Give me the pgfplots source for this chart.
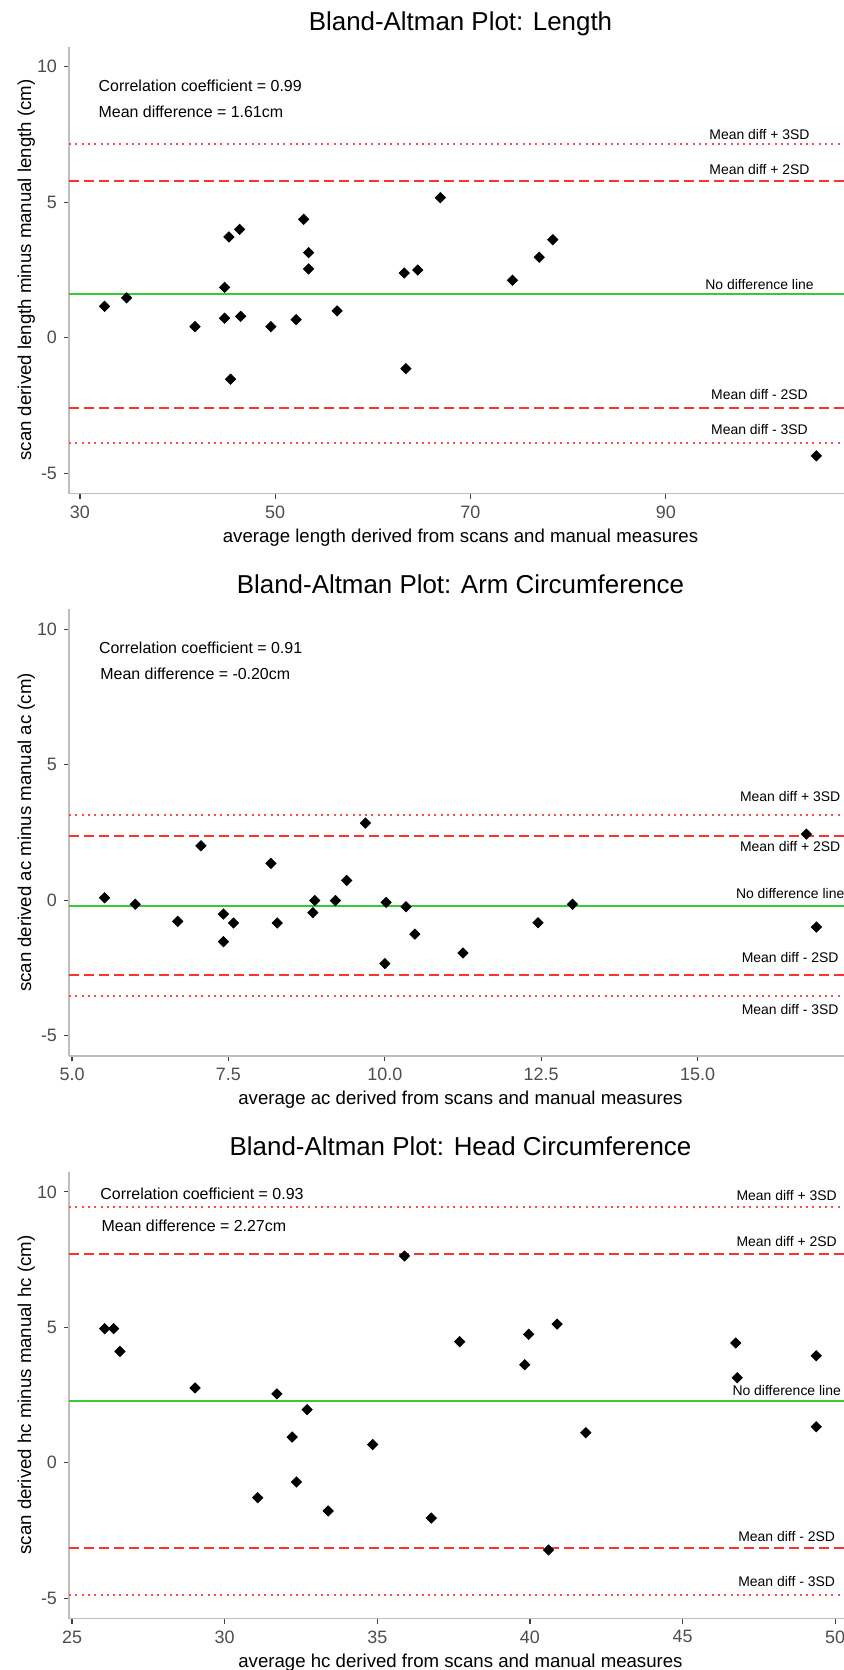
\documentclass[border=0pt]{standalone}
\usepackage{fontspec}
\setmainfont{Liberation Sans}
\usepackage{pgfplots}
\pgfplotsset{compat=1.18}

\definecolor{refred}{HTML}{FF3030}
\definecolor{dotred}{HTML}{FF4A4A}
\definecolor{nodiff}{HTML}{32CD32}
\definecolor{axisgrey}{HTML}{BEBEBE}
\definecolor{tickgrey}{HTML}{4D4D4D}

% 1 px of the reference = 0.5bp
\pgfplotsset{
  every axis title shift=0pt,
  bland/.style={
    scale only axis, width=391.5bp, height=223.5bp,
    ymin=-5.75, ymax=10.75, ytick={-5,0,5,10},
    axis x line*=bottom, axis y line*=left,
    axis line style={axisgrey, line width=0.9bp},
    tick align=outside, major tick length=2.5bp,
    tick style={color=black!75, line width=0.65bp},
    ticklabel style={font=\fontsize{9}{10}\selectfont, text=tickgrey},
    /pgf/number format/assume math mode=true,
    title style={font=\fontsize{13}{15}\selectfont, at={([yshift=7.9bp]axis description cs:0.5,1)}, anchor=base},
    xlabel style={font=\fontsize{9.35}{10}\selectfont, at={([yshift=-24.25bp]axis description cs:0.5,0)}, anchor=base},
    ylabel style={font=\fontsize{9.35}{10}\selectfont, at={([xshift=-18.9bp]axis description cs:0,0.5)}, anchor=base},
  },
  pts/.style={only marks, mark=square*, mark size=1.8bp, mark options={rotate=45}, black},
  sd3/.style={dotred, line width=1bp, dash pattern=on 1bp off 2.15bp},
  sd2/.style={refred, line width=0.9bp, dash pattern=on 5bp off 2.5bp},
  md/.style={nodiff, line width=0.9bp},
}
\tikzset{
  note/.style={font=\fontsize{8}{9}\selectfont, anchor=base west},
  lab/.style={font=\fontsize{7}{8}\selectfont, anchor=base},
}

\begin{document}
\begin{tikzpicture}

% Length
\begin{axis}[bland, at={(34.5bp,-23.25bp)}, anchor=north west,
  xmin=28.885, xmax=109.075, xtick={30,50,70,90},
  title={Bland-Altman Plot: Length},
  xlabel={average length derived from scans and manual measures},
  ylabel={scan derived length minus manual length (cm)}]
\addplot[sd3] coordinates {(28.885,7.14) (109.075,7.14)};
\addplot[sd2] coordinates {(28.885,5.80) (109.075,5.80)};
\addplot[md] coordinates {(28.885,1.61) (109.075,1.61)};
\addplot[sd2] coordinates {(28.885,-2.58) (109.075,-2.58)};
\addplot[sd3] coordinates {(28.885,-3.88) (109.075,-3.88)};
\addplot[pts] coordinates {
  (32.53,1.16) (34.79,1.47) (41.79,0.41) (44.82,1.86) (44.82,0.72)
  (45.26,3.72) (45.43,-1.53) (46.36,4.00) (46.47,0.79) (49.56,0.41)
  (52.15,0.67) (52.92,4.37) (53.42,3.14) (53.42,2.54) (56.34,0.99)
  (63.22,2.39) (63.39,-1.14) (64.60,2.50) (66.91,5.17) (74.30,2.12)
  (77.05,2.97) (78.43,3.62) (105.43,-4.36)};
\node[note] at (axis cs:31.2,9.08) {Correlation coefficient = 0.99};
\node[note] at (axis cs:31.2,8.14) {Mean difference = 1.61cm};
\node[lab] at (axis cs:99.6,7.31) {Mean diff + 3SD};
\node[lab] at (axis cs:99.6,6.03) {Mean diff + 2SD};
\node[lab] at (axis cs:99.6,1.79) {No difference line};
\node[lab] at (axis cs:99.6,-2.28) {Mean diff - 2SD};
\node[lab] at (axis cs:99.6,-3.59) {Mean diff - 3SD};
\end{axis}

% Arm circumference
\begin{axis}[bland, at={(34.5bp,-304.5bp)}, anchor=north west,
  xmin=4.951, xmax=17.469, xtick={5,7.5,10,12.5,15},
  xticklabel style={/pgf/number format/.cd, fixed, fixed zerofill, precision=1},
  title={Bland-Altman Plot: Arm Circumference},
  xlabel={average ac derived from scans and manual measures},
  ylabel={scan derived ac minus manual ac (cm)}]
\addplot[sd3] coordinates {(4.951,3.15) (17.469,3.15)};
\addplot[sd2] coordinates {(4.951,2.36) (17.469,2.36)};
\addplot[md] coordinates {(4.951,-0.20) (17.469,-0.20)};
\addplot[sd2] coordinates {(4.951,-2.76) (17.469,-2.76)};
\addplot[sd3] coordinates {(4.951,-3.55) (17.469,-3.55)};
\addplot[pts] coordinates {
  (5.52,0.09) (6.01,-0.15) (6.69,-0.78) (7.06,2.01) (7.42,-0.51)
  (7.42,-1.53) (7.58,-0.84) (8.18,1.36) (8.28,-0.84) (8.85,-0.46)
  (8.88,-0.01) (9.21,-0.01) (9.39,0.73) (9.69,2.85) (10.00,-2.34)
  (10.02,-0.08) (10.34,-0.24) (10.48,-1.25) (11.25,-1.95) (12.45,-0.83)
  (13.00,-0.15) (16.74,2.44) (16.90,-0.99)};
\node[note] at (axis cs:5.32,9.12) {Correlation coefficient = 0.91};
\node[note] at (axis cs:5.34,8.14) {Mean difference = -0.20cm};
\node[lab] at (axis cs:16.48,3.66) {Mean diff + 3SD};
\node[lab] at (axis cs:16.48,1.80) {Mean diff + 2SD};
\node[lab] at (axis cs:16.48,0.05) {No difference line};
\node[lab] at (axis cs:16.48,-2.29) {Mean diff - 2SD};
\node[lab] at (axis cs:16.48,-4.21) {Mean diff - 3SD};
\end{axis}

% Head circumference
\begin{axis}[bland, at={(34.5bp,-585.75bp)}, anchor=north west,
  xmin=24.90, xmax=50.55, xtick={25,30,35,40,45,50},
  title={Bland-Altman Plot: Head Circumference},
  xlabel={average hc derived from scans and manual measures},
  ylabel={scan derived hc minus manual hc (cm)}]
\addplot[sd3] coordinates {(24.90,9.43) (50.55,9.43)};
\addplot[sd2] coordinates {(24.90,7.71) (50.55,7.71)};
\addplot[md] coordinates {(24.90,2.27) (50.55,2.27)};
\addplot[sd2] coordinates {(24.90,-3.16) (50.55,-3.16)};
\addplot[sd3] coordinates {(24.90,-4.88) (50.55,-4.88)};
\addplot[pts] coordinates {
  (26.07,4.95) (26.36,4.95) (26.57,4.11) (29.03,2.76) (31.08,-1.29)
  (31.71,2.54) (32.21,0.95) (32.35,-0.71) (32.70,1.96) (33.39,-1.78)
  (34.85,0.67) (35.89,7.63) (36.77,-2.04) (37.70,4.47) (39.83,3.62)
  (39.96,4.74) (40.61,-3.22) (40.89,5.12) (41.83,1.11) (46.74,4.42)
  (46.79,3.14) (49.38,3.95) (49.38,1.33)};
\node[note] at (axis cs:25.70,9.70) {Correlation coefficient = 0.93};
\node[note] at (axis cs:25.74,8.55) {Mean difference = 2.27cm};
\node[lab] at (axis cs:48.41,9.69) {Mean diff + 3SD};
\node[lab] at (axis cs:48.41,7.98) {Mean diff + 2SD};
\node[lab] at (axis cs:48.41,2.48) {No difference line};
\node[lab] at (axis cs:48.41,-2.91) {Mean diff - 2SD};
\node[lab] at (axis cs:48.41,-4.58) {Mean diff - 3SD};
\end{axis}

\pgfresetboundingbox
\useasboundingbox (0,0) rectangle (422bp,-835bp);
\end{tikzpicture}
\end{document}
